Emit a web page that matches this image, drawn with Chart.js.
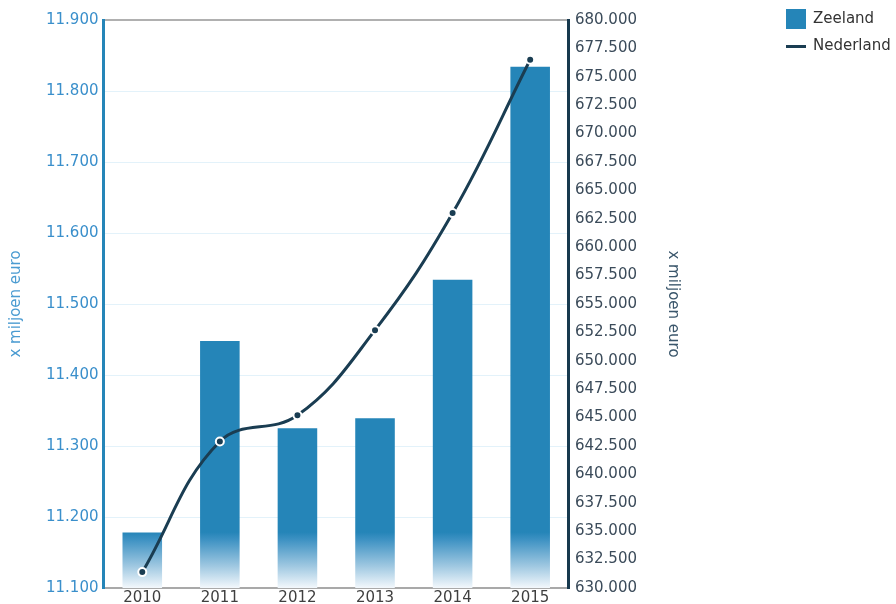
<!DOCTYPE html>
<html>
<head>
<meta charset="utf-8">
<script src="https://cdn.jsdelivr.net/npm/chart.js@4"></script>
<style>
html,body{margin:0;padding:0;background:#fff;}
#wrap{width:896px;height:604px;}
</style>
</head>
<body>
<div id="wrap"><canvas id="c" width="896" height="604"></canvas></div>
<script>
const categories = ['2010', '2011', '2012', '2013', '2014', '2015'];
const zeeland = [11178, 11448, 11325, 11339, 11534, 11834];
const nederland = [631400, 642900, 645200, 652700, 663000, 676500];
const seriesNames = ['Zeeland', 'Nederland'];
const leftAxis = {min: 11100, max: 11900, step: 100};
const rightAxis = {min: 630000, max: 680000, step: 2500};
const axisTitle = 'x miljoen euro';

const BLUE = '#2585b8';
const DARK = '#1a3d52';
const FONT = 'DejaVu Sans';

function fmt(v) {
  return Math.round(v).toString().replace(/\B(?=(\d{3})+(?!\d))/g, '.');
}

function makeSquare() {
  const c = document.createElement('canvas');
  c.width = 20; c.height = 20;
  const g = c.getContext('2d');
  g.fillStyle = BLUE; g.fillRect(0, 0, 20, 20);
  return c;
}
function makeLine() {
  const c = document.createElement('canvas');
  c.width = 20; c.height = 3;
  const g = c.getContext('2d');
  g.fillStyle = DARK; g.fillRect(0, 0, 20, 3);
  return c;
}
const legendIcons = [makeSquare(), makeLine()];

function barFill(ctx) {
  const chart = ctx.chart;
  const ca = chart.chartArea;
  if (!ca) return BLUE;
  const g = chart.ctx.createLinearGradient(0, ca.top, 0, ca.bottom);
  g.addColorStop(0, BLUE);
  g.addColorStop(0.902, BLUE);
  g.addColorStop(0.915, '#3e92c3');
  g.addColorStop(0.96, '#9cc6e0');
  g.addColorStop(1, '#f3f8fc');
  return g;
}

new Chart(document.getElementById('c'), {
  data: {
    labels: categories,
    datasets: [
      {
        type: 'bar',
        label: seriesNames[0],
        data: zeeland,
        yAxisID: 'y',
        xAxisID: 'x',
        order: 1,
        backgroundColor: barFill,
        borderWidth: 0,
        categoryPercentage: 1,
        barPercentage: 0.51
      },
      {
        type: 'line',
        label: seriesNames[1],
        data: nederland,
        yAxisID: 'y1',
        xAxisID: 'x',
        order: 0,
        borderColor: DARK,
        borderWidth: 3,
        tension: 0.4,
        fill: false,
        pointRadius: 4,
        pointBackgroundColor: DARK,
        pointBorderColor: '#ffffff',
        pointBorderWidth: 2
      }
    ]
  },
  options: {
    responsive: false,
    devicePixelRatio: 1,
    animation: false,
    layout: {padding: {top: 9, right: 0, bottom: -4, left: 0}},
    plugins: {
      tooltip: {enabled: false},
      legend: {
        position: 'right',
        align: 'start',
        labels: {
          usePointStyle: true,
          pointStyleWidth: 19,
          padding: 2.5,
          color: '#333333',
          font: {family: FONT, size: 15, lineHeight: 1.667},
          generateLabels: (chart) => chart.data.datasets.map((ds, i) => ({
            text: [ds.label],
            pointStyle: legendIcons[i],
            datasetIndex: i,
            hidden: false,
            fillStyle: BLUE,
            strokeStyle: DARK,
            lineWidth: 0,
            fontColor: '#333333'
          }))
        }
      }
    },
    scales: {
      x: {
        type: 'category',
        position: 'bottom',
        offset: true,
        grid: {display: false, drawTicks: false},
        border: {display: true, color: '#a9a9a9', width: 2},
        ticks: {color: '#3f3f3f', font: {family: FONT, size: 15, lineHeight: 0.8}, padding: 4}
      },
      x2: {
        type: 'category',
        position: 'top',
        labels: categories,
        offset: true,
        grid: {display: true, drawOnChartArea: false, drawTicks: true, tickLength: 11, color: 'rgba(0,0,0,0)'},
        border: {display: true, color: '#b0b0b0', width: 2},
        ticks: {display: false}
      },
      y: {
        type: 'linear',
        position: 'left',
        min: leftAxis.min,
        max: leftAxis.max,
        ticks: {
          stepSize: leftAxis.step,
          autoSkip: false,
          callback: (v) => fmt(v),
          color: '#3a8fcb',
          font: {family: FONT, size: 15},
          padding: 5
        },
        grid: {color: '#e3f2fa', lineWidth: 1, drawTicks: false},
        border: {display: true, color: BLUE, width: 3},
        title: {
          display: true,
          text: axisTitle,
          color: '#4a9bd1',
          font: {family: FONT, size: 15},
          padding: {top: 7, bottom: 16}
        }
      },
      y1: {
        type: 'linear',
        position: 'right',
        weight: 0,
        min: rightAxis.min,
        max: rightAxis.max,
        ticks: {
          stepSize: rightAxis.step,
          autoSkip: false,
          callback: (v) => fmt(v),
          color: '#3b4b5a',
          font: {family: FONT, size: 15},
          padding: 6
        },
        grid: {display: false, drawOnChartArea: false, drawTicks: false},
        border: {display: true, color: '#17394e', width: 3},
        title: {
          display: true,
          text: axisTitle,
          color: '#3a566b',
          font: {family: FONT, size: 15, lineHeight: 1},
          padding: {top: -4, bottom: 22.5}
        }
      },
      gap: {
        type: 'linear',
        position: 'right',
        weight: 1,
        ticks: {display: false},
        grid: {display: true, drawOnChartArea: false, drawTicks: true, tickLength: 107.5, color: 'rgba(0,0,0,0)'},
        border: {display: false}
      }
    }
  }
});
</script>
</body>
</html>
